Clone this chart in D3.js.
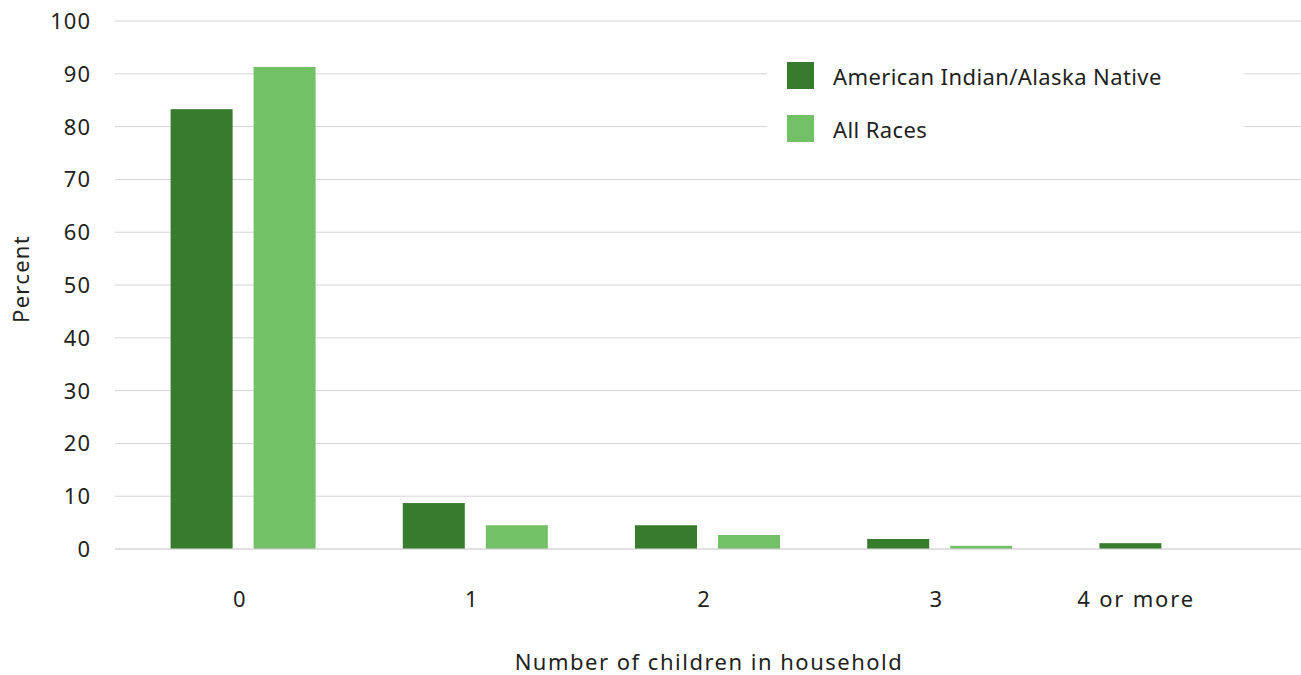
<!DOCTYPE html>
<html>
<head>
<meta charset="utf-8">
<script src="https://cdn.jsdelivr.net/npm/d3@7"></script>
<style>
  html, body { margin: 0; padding: 0; background: #fff; }
  svg text { font-family: "Noto Sans", "DejaVu Sans", sans-serif; fill: #231f20; font-size: 22px; }
</style>
</head>
<body>
<svg id="chart" width="1301" height="675"></svg>
<script>
// Share of households by number of children
const categories = ["0", "1", "2", "3", "4 or more"];
const seriesNames = ["American Indian/Alaska Native", "All Races"];
const aianValues = [83.3, 8.7, 4.5, 1.9, 1.1];
const allRacesValues = [91.3, 4.5, 2.65, 0.6, null];
const yTicks = [0, 10, 20, 30, 40, 50, 60, 70, 80, 90, 100];
const colors = ["#377b2d", "#72c167"];

const svg = d3.select("#chart");

const plotLeft = 115, plotRight = 1301, plotTop = 21, plotBottom = 549;

const y = d3.scaleLinear().domain([0, 100]).range([plotBottom, plotTop]);
const x = d3.scaleBand().domain(categories).range([127, 1288]).padding(0);
const groupWidth = 145;
const xs = d3.scaleBand().domain(seriesNames).range([0, groupWidth]).paddingInner(21 / 83);
const groupOffset = (x.bandwidth() - groupWidth) / 2;

const rows = categories.map((c, i) => ({ cat: c, values: [aianValues[i], allRacesValues[i]] }));

// gridlines
svg.append("g")
  .selectAll("line")
  .data(yTicks.filter(t => t > 0))
  .join("line")
  .attr("x1", plotLeft).attr("x2", plotRight)
  .attr("y1", d => y(d)).attr("y2", d => y(d))
  .attr("stroke", "#d4d4d4").attr("stroke-width", 1);

// y tick labels
svg.append("g")
  .selectAll("text")
  .data(yTicks)
  .join("text")
  .attr("x", 91)
  .attr("y", d => y(d))
  .attr("dy", "0.36em")
  .attr("text-anchor", "end")
  .style("letter-spacing", "1px")
  .text(d => d);

// bars
const groups = svg.append("g")
  .selectAll("g")
  .data(rows)
  .join("g")
  .attr("transform", d => `translate(${x(d.cat) + groupOffset},0)`);

groups.selectAll("rect")
  .data(d => d.values.map((v, j) => ({ name: seriesNames[j], v, j })).filter(e => e.v != null))
  .join("rect")
  .attr("x", d => xs(d.name))
  .attr("width", xs.bandwidth())
  .attr("y", d => y(d.v))
  .attr("height", d => y(0) - y(d.v))
  .attr("fill", d => colors[d.j]);

// zero line
svg.append("line")
  .attr("x1", plotLeft).attr("x2", plotRight)
  .attr("y1", y(0)).attr("y2", y(0))
  .attr("stroke", "#cccccc").attr("stroke-opacity", 0.6).attr("stroke-width", 2);

// x tick labels
svg.append("g")
  .selectAll("text")
  .data(categories)
  .join("text")
  .attr("x", (d, i) => i === categories.length - 1 ? x(d) + x.bandwidth() / 2 + 23 : x(d) + x.bandwidth() / 2 - 3)
  .attr("y", 607)
  .attr("text-anchor", (d, i) => i === categories.length - 1 ? "end" : "middle")
  .style("letter-spacing", "1.8px")
  .text(d => d);

// axis titles
svg.append("text")
  .attr("x", 709).attr("y", 670)
  .attr("text-anchor", "middle")
  .style("letter-spacing", "1.5px")
  .text("Number of children in household");

svg.append("text")
  .attr("transform", "translate(29,279) rotate(-90)")
  .attr("text-anchor", "middle")
  .style("letter-spacing", "1.3px")
  .text("Percent");

// legend
const legend = svg.append("g");
legend.append("rect")
  .attr("x", 767).attr("y", 45).attr("width", 477).attr("height", 110)
  .attr("fill", "#fff");
const items = legend.selectAll("g.item")
  .data(seriesNames)
  .join("g")
  .attr("class", "item")
  .attr("transform", (d, i) => `translate(787,${62 + i * 53})`);
items.append("rect")
  .attr("width", 27).attr("height", 27)
  .attr("fill", (d, i) => colors[i]);
items.append("text")
  .attr("x", 46).attr("y", 15.5)
  .attr("dy", "0.36em")
  .style("letter-spacing", "0.4px")
  .text(d => d);
</script>
</body>
</html>
